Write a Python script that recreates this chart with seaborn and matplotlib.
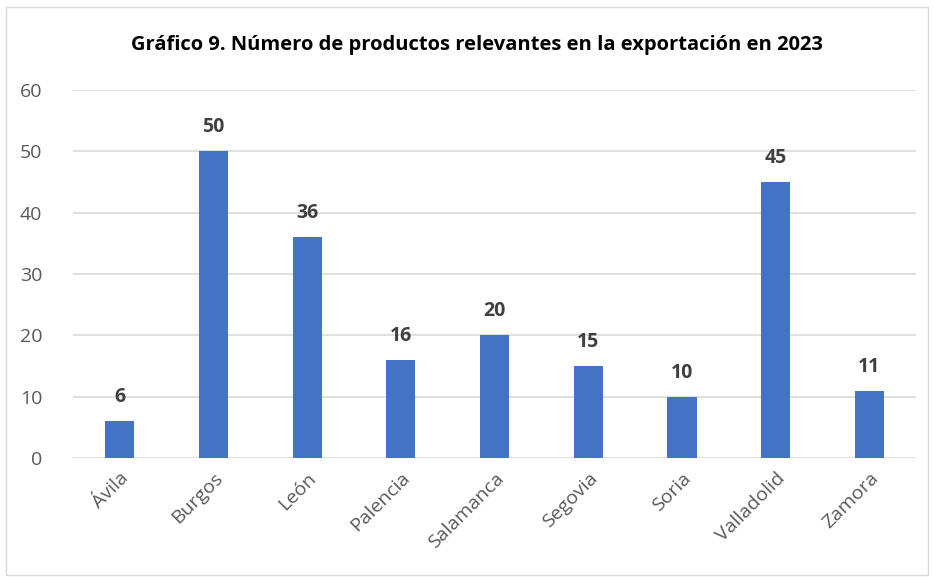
import numpy as np
import pandas as pd
import seaborn as sns
import matplotlib.pyplot as plt
from matplotlib.patches import Rectangle

provincias = ["Ávila", "Burgos", "León", "Palencia", "Salamanca",
              "Segovia", "Soria", "Valladolid", "Zamora"]
productos = [6, 50, 36, 16, 20, 15, 10, 45, 11]
y_ticks = [0, 10, 20, 30, 40, 50, 60]

df = pd.DataFrame({"provincia": provincias, "productos": productos})

sns.set_theme(style="white")
plt.rcParams['font.family'] = ['Open Sans', 'DejaVu Sans']

fig = plt.figure(figsize=(9.34, 5.8), dpi=100)
ax = fig.add_axes([0.078, 0.2103, 0.903, 0.6345])

sns.barplot(data=df, x="provincia", y="productos", color="#4472C4",
            width=0.31, saturation=1, linewidth=0, ax=ax, zorder=3)

ax.set_ylim(0, 60)
ax.set_xlim(-0.5, len(provincias) - 0.5)
ax.set_yticks(y_ticks)
ax.set_yticklabels([str(t) for t in y_ticks], fontsize=14, color="#595959")
ax.set_xticks(range(len(provincias)))
ax.set_xticklabels(provincias, rotation=45, ha="right", rotation_mode="anchor",
                   fontsize=14, color="#595959")
ax.tick_params(axis="both", length=0, pad=8)
ax.tick_params(axis="y", pad=22)
ax.set_xlabel("")
ax.set_ylabel("")
ax.grid(axis="y", color="#D9D9D9", linewidth=1.2, zorder=0)
for s in ax.spines.values():
    s.set_visible(False)

for i, v in enumerate(productos):
    ax.annotate(str(v), (i, v), xytext=(0, 10), textcoords="offset points",
                ha="center", va="bottom", fontsize=14, fontweight="bold",
                color="#404040")

fig.text(0.511, 0.922, "Gráfico 9. Número de productos relevantes en la exportación en 2023",
         ha="center", va="center", fontsize=14.5, fontweight="bold", color="#000000")

fig.patches.append(Rectangle((0.006, 0.008), 0.988, 0.98, transform=fig.transFigure,
                             fill=False, edgecolor="#D9D9D9", linewidth=1))

fig.savefig("out.png", dpi=100)
